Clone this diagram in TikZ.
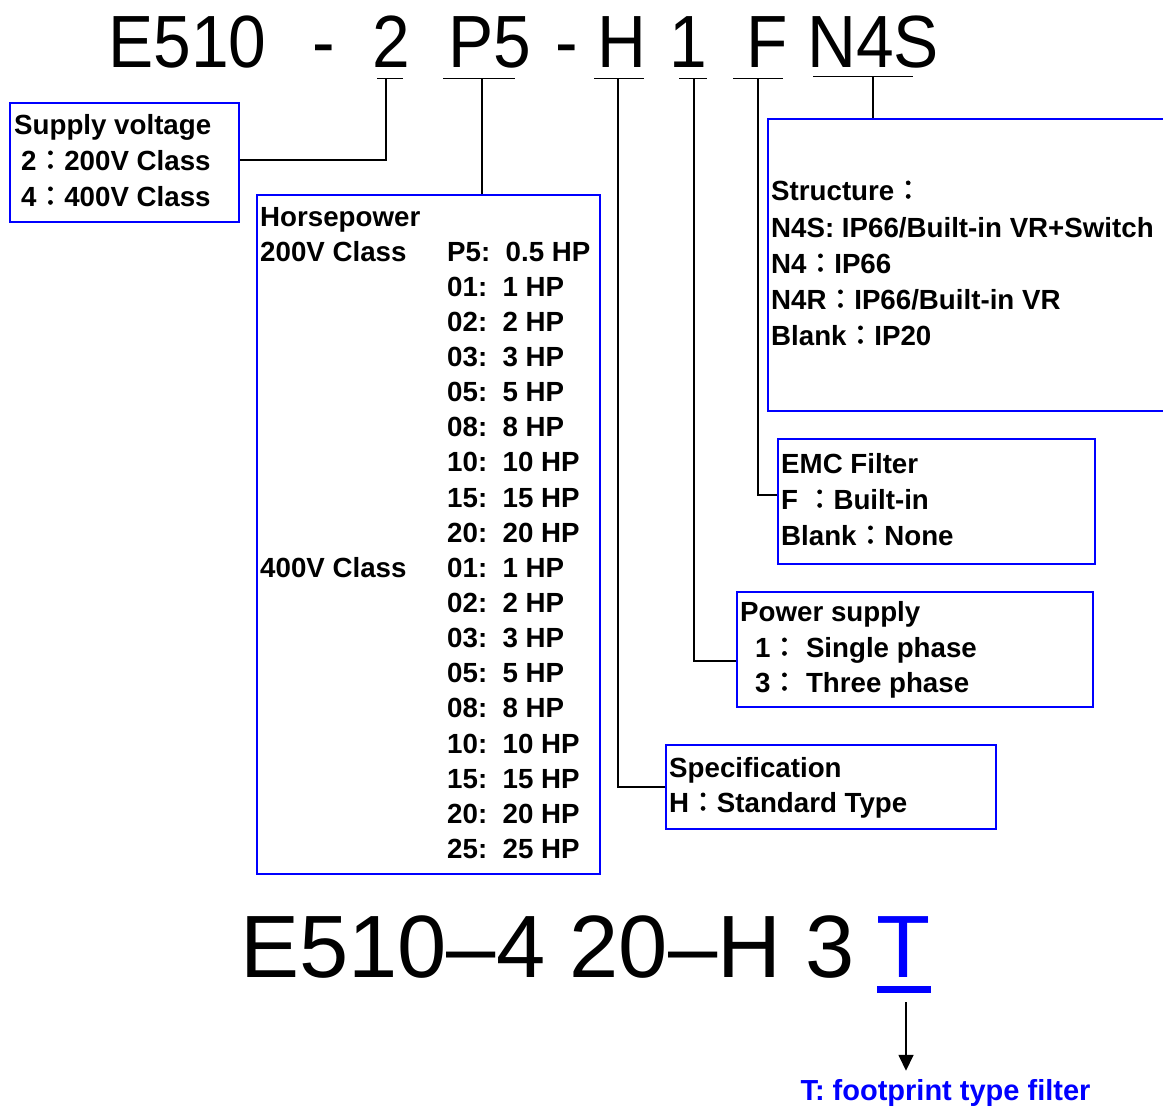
\documentclass[tikz,border=0pt]{standalone}
\usepackage{fontspec}
\setmainfont{Liberation Sans}
\newfontfamily\cjkfont{Noto Sans CJK TC}[FakeBold=1.6]
\usetikzlibrary{arrows.meta}
\newcommand\fc{{\mdseries\cjkfont ：}}
\definecolor{bblue}{RGB}{0,0,255}
\frenchspacing
\begin{document}
\begin{tikzpicture}[x=1pt,y=-1pt,
  box/.style={draw=bblue,line width=2pt,anchor=north west,inner sep=0pt},
  lbl/.style={anchor=base west,inner sep=0pt,font=\bfseries\fontsize{27.7}{33}\selectfont},
  big/.style={anchor=base west,inner sep=0pt,font=\fontsize{74}{80}\selectfont},
  bigb/.style={anchor=base west,inner sep=0pt,font=\fontsize{88.5}{90}\selectfont},
  conn/.style={line width=1.6pt,black},
  uline/.style={line width=1pt,black}]
\clip (0,0) rectangle (1163,1108);
% top code
\node[big] (cE)  at (108,67) {\scalebox{0.915}[1]{E510}};
\node[big] (cd1) at (312,67) {\scalebox{0.915}[1]{-}};
\node[big] (c2)  at (372,67) {\scalebox{0.915}[1]{2}};
\node[big] (cP)  at (448,67) {\scalebox{0.915}[1]{P5}};
\node[big] (cd2) at (555,67) {\scalebox{0.915}[1]{-}};
\node[big] (cH)  at (597,67) {\scalebox{0.915}[1]{H}};
\node[big] (c1)  at (669,67) {\scalebox{0.915}[1]{1}};
\node[big] (cF)  at (746,67) {\scalebox{0.915}[1]{F}};
\node[big] (cN)  at (807,67) {\scalebox{0.915}[1]{N4S}};
% underlines
\draw[uline] (377,79) -- (403,79);
\draw[uline] (443,79) -- (515,79);
\draw[uline] (594,79) -- (644,79);
\draw[uline] (679,79) -- (707,79);
\draw[uline] (733,79) -- (783,79);
\draw[uline] (813,77) -- (913,77);
\coordinate (u2) at (386,79);
\coordinate (uP) at (482,79);
\coordinate (uH) at (618,79);
\coordinate (u1) at (694,79);
\coordinate (uF) at (758,79);
\coordinate (uN) at (873,77);
% boxes
\node[box,minimum width=229pt,minimum height=119pt] (sv) at (9,102) {};
\node[box,minimum width=343pt,minimum height=679pt] (hp) at (256,194) {};
\node[box,minimum width=420pt,minimum height=292pt] (st) at (767,118) {};
\node[box,minimum width=317pt,minimum height=125pt] (emc) at (777,438) {};
\node[box,minimum width=356pt,minimum height=115pt] (ps) at (736,591) {};
\node[box,minimum width=330pt,minimum height=84pt] (spec) at (665,744) {};
% connectors
\draw[conn] (u2) |- ([yshift=2.5pt]sv.east);
\draw[conn] (uP) -- (uP |- hp.north);
\draw[conn] (uH) |- (spec.west);
\draw[conn] (u1) |- ([yshift=-11.5pt]ps.west);
\draw[conn] (uF) |- ([yshift=6.5pt]emc.west);
\draw[conn] (uN) -- (uN |- st.north);
% supply voltage
\node[lbl] (sv1) at (14,134) {Supply voltage};
\node[lbl] (sv2) at (21,170) {2\fc200V Class};
\node[lbl] (sv3) at (21,206) {4\fc400V Class};
% horsepower
\node[lbl] (hp0) at (260,226) {Horsepower};
\node[lbl] (hpa) at (260,261) {200V Class};
\node[lbl] (hpb) at (260,577) {400V Class};
\foreach \c/\v [count=\i from 0] in {P5/0.5,01/1,02/2,03/3,05/5,08/8,10/10,15/15,20/20,01/1,02/2,03/3,05/5,08/8,10/10,15/15,20/20,25/25}
  \node[lbl] (hr\i) at (447,{261+\i*35.15}) {\c:\ \ \v\ HP};
% structure
\node[lbl] (st1) at (771,200) {Structure\fc};
\node[lbl] (st2) at (771,237) {N4S: IP66/Built-in VR+Switch};
\node[lbl] (st3) at (771,273) {N4\fc IP66};
\node[lbl] (st4) at (771,309) {N4R\fc IP66/Built-in VR};
\node[lbl] (st5) at (771,345) {Blank\fc IP20};
% emc
\node[lbl] (em1) at (781,473) {EMC Filter};
\node[lbl] (em2) at (781,509) {F\ \fc Built-in};
\node[lbl] (em3) at (781,545) {Blank\fc None};
% power supply
\node[lbl] (ps1) at (740,621) {Power supply};
\node[lbl] (ps2) at (755,657) {1\fc\ Single phase};
\node[lbl] (ps3) at (755,692) {3\fc\ Three phase};
% specification
\node[lbl] (sp1) at (669,777) {Specification};
\node[lbl] (sp2) at (669,812) {H\fc Standard Type};
% bottom example
\node[bigb] (code) at (240,977) {E510–4 20–H 3};
\node[bigb,text=bblue] (tT) at (876,977) {T};
\draw[bblue,line width=7pt] (877,989.5) -- (931,989.5);
\coordinate (aS) at (906,1002);
\node[anchor=base,inner sep=0pt,text=bblue,font=\bfseries\fontsize{29}{32}\selectfont] (tf) at (945.5,1100) {T: footprint type filter};
\draw[line width=1.6pt,-{Triangle[width=15pt,length=16pt]},shorten >=8pt] (aS) -- (aS |- tf.north);
\end{tikzpicture}
\end{document}
